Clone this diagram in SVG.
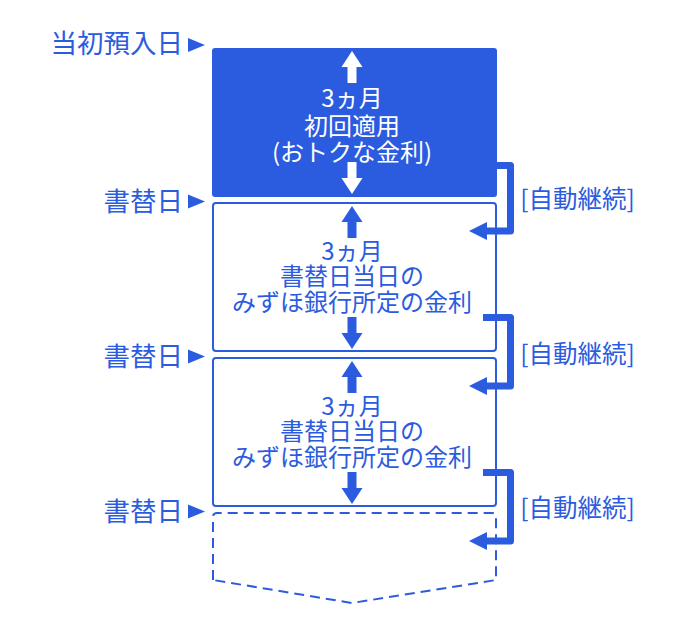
<svg xmlns="http://www.w3.org/2000/svg" xmlns:xlink="http://www.w3.org/1999/xlink" width="690" height="640" viewBox="0 0 690 640">
<style>
.t{font-family:"Noto Sans CJK JP","Noto Sans",sans-serif;fill:#2b5ce0}
.lbl{font-size:26.5px;text-anchor:end}
.body{font-size:24px;text-anchor:middle}
.w{fill:#ffffff}
.auto{font-size:24.5px;text-anchor:middle}
.box{fill:#ffffff;stroke:#2b5ce0;stroke-width:2}
.conn{fill:none;stroke:#2b5ce0;stroke-width:7;stroke-linejoin:round}
.tri{fill:#2b5ce0}
</style>
<defs>
<g id="arrows">
<path d="M0,3 L10.5,19 L4.5,19 L4.5,35 L-4.5,35 L-4.5,19 L-10.5,19 Z"/>
<path d="M-4.5,114 L4.5,114 L4.5,130 L10.5,130 L0,146 L-10.5,130 L-4.5,130 Z"/>
</g>
<polygon id="tri" points="0,-7 17,0 0,7"/>
</defs>
<rect width="690" height="640" fill="#ffffff"/>

<g id="label-start">
<text class="t lbl" x="183" y="53">当初預入日</text>
<use xlink:href="#tri" x="188" y="45" class="tri"/>
</g>
<g id="label-rollover-1">
<text class="t lbl" x="183" y="211">書替日</text>
<use xlink:href="#tri" x="188" y="201.5" class="tri"/>
</g>
<g id="label-rollover-2">
<text class="t lbl" x="183" y="366">書替日</text>
<use xlink:href="#tri" x="188" y="356.5" class="tri"/>
</g>
<g id="label-rollover-3">
<text class="t lbl" x="183" y="521">書替日</text>
<use xlink:href="#tri" x="188" y="511.5" class="tri"/>
</g>

<g id="period-1">
<rect x="212" y="48" width="285" height="149" rx="3" fill="#2b5ce0"/>
<use xlink:href="#arrows" x="352" y="48" fill="#ffffff"/>
<text class="t body w" x="352" y="107">3ヵ月</text>
<text class="t body w" x="352" y="135">初回適用</text>
<text class="t body w" x="352" y="161">(おトクな金利)</text>
</g>

<g id="period-2">
<rect class="box" x="213" y="203" width="283" height="148" rx="3"/>
<use xlink:href="#arrows" x="352" y="203" fill="#2b5ce0"/>
<text class="t body" x="352" y="260">3ヵ月</text>
<text class="t body" x="352" y="285">書替日当日の</text>
<text class="t body" x="352" y="311">みずほ銀行所定の金利</text>
</g>

<g id="period-3">
<rect class="box" x="213" y="358" width="283" height="148" rx="3"/>
<use xlink:href="#arrows" x="352" y="358" fill="#2b5ce0"/>
<text class="t body" x="352" y="415">3ヵ月</text>
<text class="t body" x="352" y="440">書替日当日の</text>
<text class="t body" x="352" y="466">みずほ銀行所定の金利</text>
</g>

<g id="period-4">
<path d="M213,580 V517 Q213,513 217,513 H492 Q496,513 496,517 V580 L352,603 Z" fill="none" stroke="#2b5ce0" stroke-width="2" stroke-dasharray="10 6"/>
</g>

<g id="connectors">
<path class="conn" d="M497,165.5 H510.5 V231 H486"/>
<polygon class="tri" points="469,231 487,222 487,240"/>
<path class="conn" d="M483,317.5 H510.5 V386 H486"/>
<polygon class="tri" points="469,386 487,377 487,395"/>
<path class="conn" d="M483,472.5 H510.5 V541 H486"/>
<polygon class="tri" points="469,541 487,532 487,550"/>
</g>

<g id="auto-labels">
<text class="t auto" x="577.5" y="208">[自動継続]</text>
<text class="t auto" x="577.5" y="363">[自動継続]</text>
<text class="t auto" x="577.5" y="517">[自動継続]</text>
</g>
</svg>
